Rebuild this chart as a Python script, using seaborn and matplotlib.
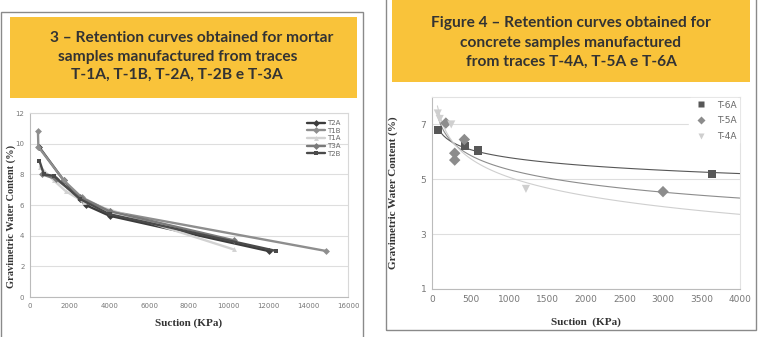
import numpy as np
import pandas as pd
import seaborn as sns
import matplotlib.pyplot as plt
from matplotlib.patches import Rectangle

# ---- Figure 3: mortar samples (suction in KPa, water content in %) ----
traces_l = ['T2A', 'T1B', 'T1A', 'T3A', 'T2B']
t2a_x = [450, 1700, 2500, 2800, 4000, 12000]
t2a_y = [9.8, 7.6, 6.4, 6.0, 5.3, 3.0]
t1b_x = [400, 420, 1700, 2600, 4000, 14900]
t1b_y = [10.8, 9.8, 7.6, 6.5, 5.6, 3.0]
t1a_x = [500, 1200, 1800, 2700, 4000, 10250]
t1a_y = [8.5, 7.6, 6.9, 6.2, 5.7, 3.1]
t3a_x = [600, 1300, 2500, 4000, 10250]
t3a_y = [8.0, 7.7, 6.5, 5.6, 3.7]
t2b_x = [470, 700, 1200, 2500, 4000, 12400]
t2b_y = [8.9, 8.0, 7.9, 6.4, 5.4, 3.0]

# ---- Figure 4: concrete samples ----
traces_r = ['T-6A', 'T-5A', 'T-4A']
t6a_x = [80, 430, 600, 3640]
t6a_y = [6.8, 6.2, 6.05, 5.2]
t5a_x = [180, 295, 295, 420, 3000]
t5a_y = [7.05, 5.95, 5.7, 6.45, 4.55]
t4a_x = [75, 100, 250, 1220]
t4a_y = [7.4, 7.2, 7.0, 4.65]

left_xticks = np.arange(0, 16001, 2000)
left_yticks = np.arange(0, 13, 2)
right_xticks = np.arange(0, 4001, 500)
right_yticks = [1, 3, 5, 7]

W, H = 760, 337
YELLOW = '#f9c33a'
TXT = '#333333'

sns.set_style('white')
fig = plt.figure(figsize=(W / 100, H / 100), dpi=100)


def box(x0, y0, x1, y1):
    return [x0 / W, 1 - y1 / H, (x1 - x0) / W, (y1 - y0) / H]


# panel frames and yellow title boxes
for (x0, y0, x1, y1) in [(1, 12, 363, 345), (386, -5, 756, 330)]:
    b = box(x0, y0, x1, y1)
    fig.patches.append(Rectangle((b[0], b[1]), b[2], b[3], transform=fig.transFigure,
                                 fill=False, edgecolor='#8a8a8a', lw=1.0))
for (x0, y0, x1, y1) in [(10, 17, 357, 98), (392, 0, 750, 82)]:
    b = box(x0, y0, x1, y1)
    fig.patches.append(Rectangle((b[0], b[1]), b[2], b[3], transform=fig.transFigure,
                                 facecolor=YELLOW, edgecolor='none'))

title_font = dict(family='Lato', fontweight='bold', fontsize=11.2, color=TXT,
                  ha='center', va='center')
for x, y, s in [(192, 38, '3 – Retention curves obtained for mortar'),
                (178, 57, 'samples manufactured from traces'),
                (177, 75, 'T-1A, T-1B, T-2A, T-2B e T-3A'),
                (571, 23, 'Figure 4 – Retention curves obtained for'),
                (571, 43, 'concrete samples manufactured'),
                (571, 62, 'from traces T-4A, T-5A e T-6A')]:
    fig.text(x / W, 1 - y / H, s, **title_font)

label_font = dict(family='Liberation Serif', fontweight='bold', color=TXT)

# ---------------- left chart ----------------
ax1 = fig.add_axes(box(30, 113, 348, 297))
xs = [t2a_x, t1b_x, t1a_x, t3a_x, t2b_x]
ys = [t2a_y, t1b_y, t1a_y, t3a_y, t2b_y]
df_l = pd.concat([pd.DataFrame({'suction': x, 'water': y, 'trace': n})
                  for n, x, y in zip(traces_l, xs, ys)], ignore_index=True)
pal_l = {'T2A': '#3c3c3c', 'T1B': '#8e8e8e', 'T1A': '#d2d2d2', 'T3A': '#7a7a7a', 'T2B': '#4a4a4a'}
mk_l = {'T2A': 'D', 'T1B': 'D', 'T1A': '^', 'T3A': 'D', 'T2B': 's'}
sns.lineplot(data=df_l, x='suction', y='water', hue='trace', style='trace',
             hue_order=traces_l, style_order=traces_l, palette=pal_l, markers=mk_l,
             dashes=False, sort=False, estimator=None, lw=1.7, markersize=3.5,
             markeredgewidth=0, ax=ax1)
ax1.set_xlim(0, 16000)
ax1.set_ylim(0, 12)
ax1.set_xticks(left_xticks)
ax1.set_yticks(left_yticks)
ax1.grid(axis='y', color='#dedede', lw=0.8)
ax1.set_axisbelow(True)
ax1.tick_params(labelsize=5, colors='#777777', length=2, width=0.6, pad=2)
ax1.set_xlabel('Suction (KPa)', fontsize=8, labelpad=7, **label_font)
ax1.set_ylabel('Gravimetric Water Content (%)', fontsize=7.5, **label_font)
ax1.yaxis.set_label_coords(-0.045, 0.44)
for s in ax1.spines.values():
    s.set_color('#d8d8d8')
    s.set_linewidth(0.8)
ax1.spines['left'].set_color('#bbbbbb')
ax1.spines['bottom'].set_color('#bbbbbb')
leg = ax1.legend(loc='upper right', frameon=False, fontsize=5, handlelength=2.6,
                 labelspacing=0.25, handletextpad=0.3, borderaxespad=0.6)
for t in leg.get_texts():
    t.set_color('#666666')

# ---------------- right chart ----------------
ax2 = fig.add_axes(box(432, 97, 740, 289))
rx = [t6a_x, t5a_x, t4a_x]
ry = [t6a_y, t5a_y, t4a_y]
df_r = pd.concat([pd.DataFrame({'suction': x, 'water': y, 'trace': n})
                  for n, x, y in zip(traces_r, rx, ry)], ignore_index=True)
pal_r = {'T-6A': '#575757', 'T-5A': '#8c8c8c', 'T-4A': '#cfcfcf'}
mk_r = {'T-6A': 's', 'T-5A': 'D', 'T-4A': 'v'}
sns.scatterplot(data=df_r, x='suction', y='water', hue='trace', style='trace',
                hue_order=traces_r, style_order=traces_r, palette=pal_r, markers=mk_r,
                s=34, edgecolor='none', zorder=3, ax=ax2)
handles, labels = ax2.get_legend_handles_labels()

# logarithmic trend lines drawn across the axis range
ax2.set_xlim(70, 4000)
for n, x, y in zip(traces_r, rx, ry):
    sns.regplot(x=np.array(x), y=np.array(y), logx=True, scatter=False, ci=None,
                truncate=False, color=pal_r[n], line_kws={'lw': 0.8}, ax=ax2)
ax2.set_xlim(0, 4000)
ax2.set_ylim(1, 8)
ax2.set_xticks(right_xticks)
ax2.set_yticks(right_yticks)
ax2.grid(axis='y', color='#dedede', lw=0.8)
ax2.set_axisbelow(True)
ax2.tick_params(labelsize=6.5, colors='#777777', length=2, width=0.6, pad=2)
ax2.set_xlabel('Suction  (KPa)', fontsize=8, labelpad=10, **label_font)
ax2.set_ylabel('Gravimetric Water Content (%)', fontsize=8, **label_font)
ax2.yaxis.set_label_coords(-0.11, 0.5)
for s in ax2.spines.values():
    s.set_color('#e2e2e2')
    s.set_linewidth(0.8)
ax2.spines['left'].set_color('#bbbbbb')
ax2.spines['bottom'].set_color('#bbbbbb')
leg2 = ax2.legend(handles, labels, loc='upper right', frameon=True, fontsize=6.5,
                  facecolor='white', edgecolor='white', framealpha=1, markerscale=0.7,
                  labelspacing=0.75, handletextpad=0.8, borderaxespad=0.1,
                  borderpad=0.3)
for t in leg2.get_texts():
    t.set_color('#666666')

fig.savefig('out.png', dpi=100)
